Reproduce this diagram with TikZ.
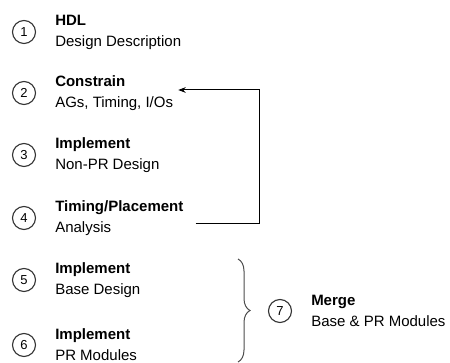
\documentclass[tikz,border=0pt]{standalone}
\usepackage{fontspec}
\setmainfont{Liberation Sans}
\usetikzlibrary{positioning,decorations.pathreplacing,arrows.meta}
\tikzstyle{arrow} = [line width=1pt, ->, >=Stealth]

\begin{document}
\begin{tikzpicture}[x=1pt, y=-1pt,
    num/.style={
        circle,
        draw=black!80,
        line width=1.1pt,
        minimum size=23pt,
        inner sep=0pt,
        font=\fontsize{13}{13}\selectfont
    },
    stage/.style={
        align=left,
        inner sep=0pt,
        font=\fontsize{15}{21}\selectfont
    },
    brace/.style={
        decorate,
        decoration={brace, amplitude=12pt},
        draw=black!70,
        line width=1pt
    }
    ]
    \useasboundingbox (0,0) rectangle (450,363);

    % numbered steps
    \node[num] (c1) at (24,32) {1};
    \node[num] (c2) at (24,93) {2};
    \node[num] (c3) at (24,155) {3};
    \node[num] (c4) at (24,218) {4};
    \node[num] (c5) at (24,280) {5};
    \node[num] (c6) at (24,345) {6};

    \node[stage, right=19pt of c1] (t1) {\textbf{HDL}\\Design Description};
    \node[stage, right=19pt of c2] (t2) {\textbf{Constrain}\\AGs, Timing, I/Os};
    \node[stage, right=19pt of c3] (t3) {\textbf{Implement}\\Non-PR Design};
    \node[stage, right=19pt of c4] (t4) {\textbf{Timing/Placement}\\Analysis};
    \node[stage, right=19pt of c5] (t5) {\textbf{Implement}\\Base Design};
    \node[stage, right=19pt of c6] (t6) {\textbf{Implement}\\PR Modules};

    % merge step
    \node[num] (c7) at (280,311) {7};
    \node[stage, right=19pt of c7] (t7) {\textbf{Merge}\\Base \& PR Modules};

    % loop back from analysis to constraints
    \draw[arrow] ([xshift=12pt,yshift=-6pt]t4.east) -- ++(64,0) |- ([xshift=5pt,yshift=3pt]t2.east);

    % brace over steps 5 and 6
    \coordinate (btop) at (238,259);
    \coordinate (bbot) at (238,362);
    \draw[brace] (btop) -- (bbot);
\end{tikzpicture}
\end{document}
